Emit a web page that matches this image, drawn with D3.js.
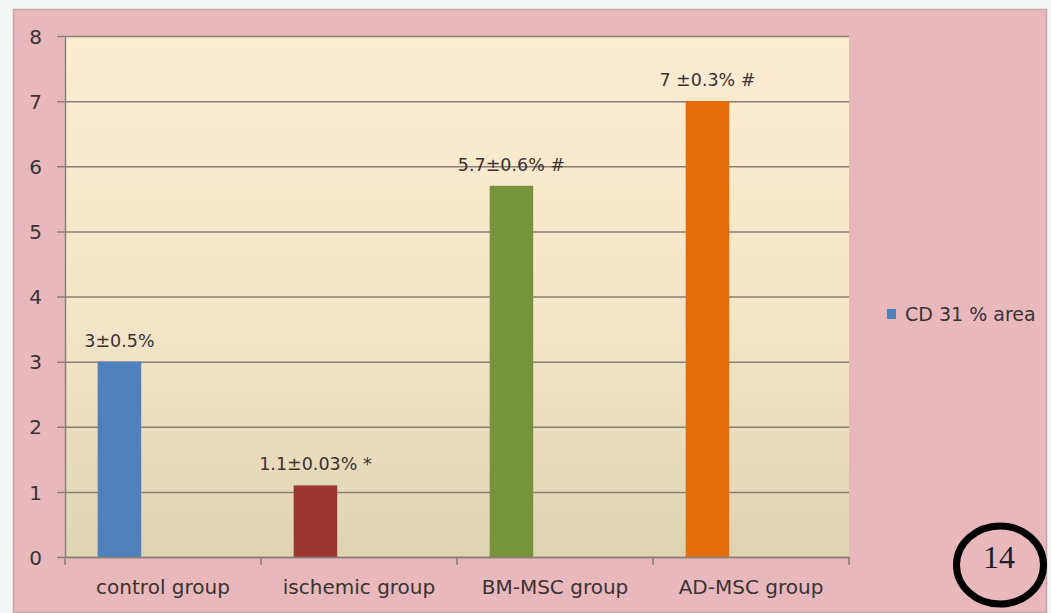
<!DOCTYPE html>
<html>
<head>
<meta charset="utf-8">
<script src="https://cdn.jsdelivr.net/npm/d3@7"></script>
<style>
  html, body { margin: 0; padding: 0; background: #f3f4f4; }
  svg { display: block; }
  text { font-family: "DejaVu Sans", sans-serif; fill: #3b3232; }
</style>
</head>
<body>
<svg id="chart" width="1051" height="613"></svg>
<script>
// ---- data ----
const categories = ["control group", "ischemic group", "BM-MSC group", "AD-MSC group"];
const values = [3, 1.1, 5.7, 7];
const valueLabels = ["3±0.5%", "1.1±0.03% *", "5.7±0.6% #", "7 ±0.3% #"];
const barColors = ["#4f81bd", "#9c3431", "#77933c", "#e46c0a"];
const yTicks = [0, 1, 2, 3, 4, 5, 6, 7, 8];
const seriesName = "CD 31 % area";
const figureNumber = "14";

// ---- layout ----
const W = 1051, H = 613;
const plot = { left: 65, right: 849, top: 36, bottom: 557 };
const svg = d3.select("#chart");

// page frame
svg.append("rect").attr("x", 0).attr("y", 0).attr("width", W).attr("height", H).attr("fill", "#f4f5f5");
svg.append("rect").attr("x", 13.5).attr("y", 9.5).attr("width", 1033).attr("height", 603)
  .attr("fill", "#e8b8bc").attr("stroke", "#c9a3a6").attr("stroke-width", 1.5);

// gradient
const defs = svg.append("defs");
const grad = defs.append("linearGradient").attr("id", "plotGrad")
  .attr("x1", 0).attr("y1", 0).attr("x2", 0).attr("y2", 1);
grad.append("stop").attr("offset", "0%").attr("stop-color", "#fdecd1");
grad.append("stop").attr("offset", "55%").attr("stop-color", "#f4e5c8");
grad.append("stop").attr("offset", "100%").attr("stop-color", "#ded4b2");

const x = d3.scaleBand().domain(categories).range([plot.left, plot.right]).paddingInner(0).paddingOuter(0);
const y = d3.scaleLinear().domain([0, 8]).range([plot.bottom, plot.top]);

svg.append("rect")
  .attr("x", plot.left).attr("y", plot.top)
  .attr("width", plot.right - plot.left).attr("height", plot.bottom - plot.top)
  .attr("fill", "url(#plotGrad)");

// gridlines + y axis
const yAxis = d3.axisLeft(y).tickValues(yTicks).tickFormat(d3.format("d"))
  .tickSize(-(plot.right - plot.left)).tickSizeOuter(0).tickPadding(0);
const gy = svg.append("g").attr("transform", `translate(${plot.left},0)`).call(yAxis);
gy.select(".domain").attr("stroke", "#8a7f76").attr("stroke-width", 1.5);
gy.selectAll(".tick line").attr("stroke", "#8a7f76").attr("stroke-width", 1.5).attr("x1", -8);
gy.selectAll(".tick text").attr("x", -23).attr("dy", "0.36em")
  .style("font-size", "20px").style("fill", "#3b3232");

// bars (clustered slot of first series, Excel-like gap)
const barW = x.bandwidth() / 4.5;
const barOffset = barW * 0.75;
svg.append("g").selectAll("rect").data(categories).join("rect")
  .attr("x", (d) => x(d) + barOffset)
  .attr("y", (d, i) => y(values[i]))
  .attr("width", barW)
  .attr("height", (d, i) => y(0) - y(values[i]))
  .attr("fill", (d, i) => barColors[i]);

// value labels
svg.append("g").selectAll("text").data(categories).join("text")
  .attr("x", (d) => x(d) + barOffset + barW / 2)
  .attr("y", (d, i) => y(values[i]) - 15)
  .attr("text-anchor", "middle")
  .style("font-size", "17.5px")
  .text((d, i) => valueLabels[i]);

// x axis
const xAxis = d3.axisBottom(x).tickSize(0).tickSizeOuter(0).tickPadding(0);
const gx = svg.append("g").attr("transform", `translate(0,${plot.bottom})`).call(xAxis);
gx.select(".domain").attr("stroke", "#8a7f76").attr("stroke-width", 1.5);
gx.selectAll(".tick text").attr("y", 37).attr("dy", 0)
  .style("font-size", "20px").style("fill", "#3b3232");
// category boundary ticks
const bounds = categories.map((c) => x(c)).concat([x(categories[categories.length - 1]) + x.bandwidth()]);
svg.append("g").selectAll("line").data(bounds).join("line")
  .attr("x1", (d) => d).attr("x2", (d) => d)
  .attr("y1", plot.bottom).attr("y2", plot.bottom + 8)
  .attr("stroke", "#8a7f76").attr("stroke-width", 1.5);

// legend
const lg = svg.append("g").attr("transform", "translate(887,309)");
lg.append("rect").attr("width", 9).attr("height", 10).attr("fill", barColors[0]);
lg.append("text").attr("x", 18).attr("y", 5).attr("dy", "0.36em")
  .style("font-size", "19px").text(seriesName);

// figure number circle
svg.append("ellipse").attr("cx", 1000).attr("cy", 565).attr("rx", 43.5).attr("ry", 39)
  .attr("fill", "none").attr("stroke", "#000").attr("stroke-width", 7);
svg.append("text").attr("x", 999).attr("y", 557).attr("text-anchor", "middle")
  .attr("dy", "0.33em")
  .style("font-family", "'Liberation Serif', 'DejaVu Serif', serif")
  .style("font-size", "32px").style("fill", "#1a1a2a")
  .text(figureNumber);
</script>
</body>
</html>
